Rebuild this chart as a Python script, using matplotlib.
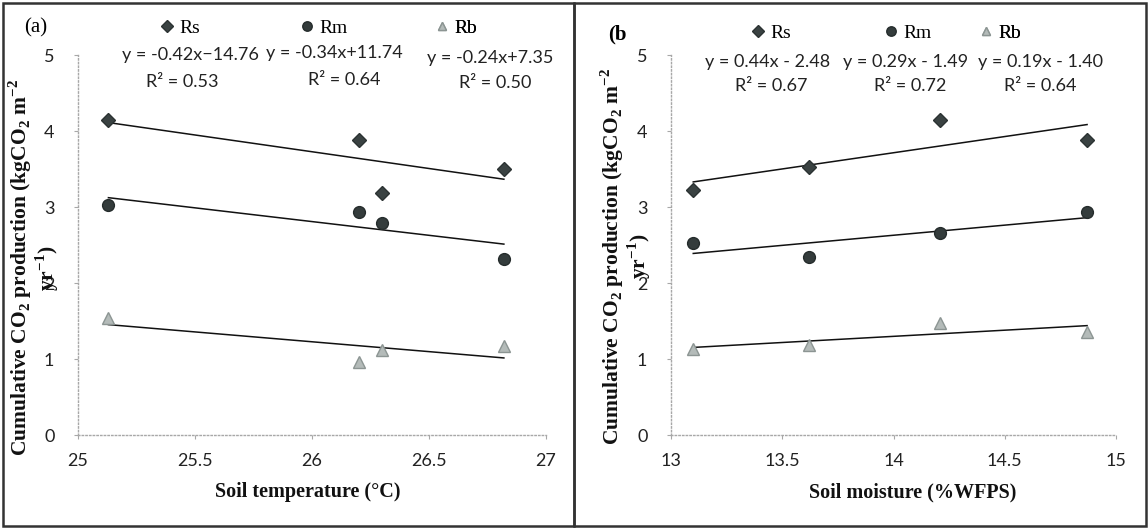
import numpy as np
import matplotlib
matplotlib.use("Agg")
import matplotlib.pyplot as plt
from matplotlib.patches import Rectangle

# data
temp = [25.13, 26.20, 26.30, 26.82]
rs_temp = [4.15, 3.88, 3.18, 3.50]
rm_temp = [3.02, 2.94, 2.79, 2.32]
rb_temp = [1.54, 0.96, 1.12, 1.17]

moist = [13.10, 13.62, 14.21, 14.87]
rs_moist = [3.22, 3.53, 4.14, 3.88]
rm_moist = [2.53, 2.34, 2.66, 2.93]
rb_moist = [1.13, 1.19, 1.48, 1.36]

series = ["Rs", "Rm", "Rb"]
eqs_temp = ["y = -0.42x\u221214.76", "y = -0.34x+11.74", "y = -0.24x+7.35"]
r2_temp = ["R\u00b2 = 0.53", "R\u00b2 = 0.64", "R\u00b2 = 0.50"]
eqs_moist = ["y = 0.44x - 2.48", "y = 0.29x - 1.49", "y = 0.19x - 1.40"]
r2_moist = ["R\u00b2 = 0.67", "R\u00b2 = 0.72", "R\u00b2 = 0.64"]

W, H = 1148, 529
SANS = ["Lato", "DejaVu Sans"]
SERIF = "Liberation Serif"

plt.rcParams["mathtext.fontset"] = "custom"
plt.rcParams["mathtext.rm"] = "Liberation Serif:bold"
plt.rcParams["mathtext.bf"] = "Liberation Serif:bold"

styles = {
    "Rs": dict(marker="D", ms=7.5, color="#3a4242", mec="#2b3232"),
    "Rm": dict(marker="o", ms=8.5, color="#343c3c", mec="#252c2c"),
    "Rb": dict(marker="^", ms=8, color="#b4bbb9", mec="#8c9593"),
}

# y label is wrapped over two lines in the original
YLABEL_1 = "Cumulative CO$_{2}$ production (kgCO$_{2}$ m$^{-2}$"
YLABEL_2 = "yr$^{-1}$)"


def fig_pos(px, py):
    return px / W, 1 - py / H


def draw_panel(fig, rect, x, ys, xlim, xticks, xlabel, xlab_x, ylab_x, ylab2_x, ylab_y):
    ax = fig.add_axes(rect)
    handles = []
    for name, y in zip(series, ys):
        (h,) = ax.plot(x, y, ls="none", zorder=3, **styles[name])
        handles.append(h)
        k, b = np.polyfit(x, y, 1)
        xx = np.array([min(x), max(x)])
        ax.plot(xx, k * xx + b, color="#111111", lw=1.1, zorder=2)

    ax.set_xlim(*xlim)
    ax.set_ylim(0, 5)
    ax.set_xticks(xticks)
    ax.set_xticklabels([f"{t:g}" for t in xticks])
    ax.set_yticks(range(6))
    for s in ["top", "right"]:
        ax.spines[s].set_visible(False)
    for s in ["left", "bottom"]:
        ax.spines[s].set_color("#a8a8a8")
        ax.spines[s].set_linestyle(":")
        ax.spines[s].set_linewidth(1.0)
    ax.tick_params(axis="both", direction="out", length=3, color="#a8a8a8",
                   labelsize=13, labelcolor="#222222")
    ax.tick_params(axis="x", pad=10)
    ax.tick_params(axis="y", pad=14)
    for lab in ax.get_xticklabels() + ax.get_yticklabels():
        lab.set_family(SANS)

    ax.set_xlabel(xlabel, family=SERIF, fontweight="bold", fontsize=14.5, color="#111111")
    ax.xaxis.set_label_coords(xlab_x, -0.125)
    ax.set_ylabel(YLABEL_1, family=SERIF, fontweight="bold", fontsize=15.5, color="#111111")
    ax.yaxis.set_label_coords(ylab_x, ylab_y)
    ax.text(ylab2_x, ylab_y, YLABEL_2, transform=ax.transAxes, rotation=90,
            ha="center", va="center", family=SERIF, fontweight="bold",
            fontsize=15.5, color="#111111")
    return ax, handles


def add_key(fig, ax, handle, label, px, py):
    leg = ax.legend([handle], [label], loc="center left",
                    bbox_to_anchor=fig_pos(px - 6, py), bbox_transform=fig.transFigure,
                    frameon=False, borderpad=0, handlelength=0.6, handletextpad=0.35,
                    markerscale=0.8, numpoints=1,
                    prop={"family": SERIF, "size": 14})
    ax.add_artist(leg)


def main():
    fig = plt.figure(figsize=(W / 100, H / 100), dpi=100)

    # panel frames
    fig.add_artist(Rectangle(fig_pos(3, 526), 571 / W, 523 / H, fill=False,
                             transform=fig.transFigure, lw=1.8, ec="#333333"))
    fig.add_artist(Rectangle(fig_pos(574, 526), 572 / W, 523 / H, fill=False,
                             transform=fig.transFigure, lw=1.8, ec="#333333"))

    ax_a, h_a = draw_panel(fig, [78 / W, 1 - 435 / H, 468 / W, 380 / H],
                           temp, [rs_temp, rm_temp, rb_temp], (25, 27),
                           [25, 25.5, 26, 26.5, 27], "Soil temperature (\u00b0C)",
                           0.491, -0.093, -0.066, 0.44)
    ax_b, h_b = draw_panel(fig, [671 / W, 1 - 435 / H, 445 / W, 380 / H],
                           moist, [rs_moist, rm_moist, rb_moist], (13, 15),
                           [13, 13.5, 14, 14.5, 15], "Soil moisture (%WFPS)",
                           0.544, -0.102, -0.071, 0.47)

    fig.text(*fig_pos(24, 28), "(a)", family=SERIF, fontsize=15, va="center", ha="left")
    fig.text(*fig_pos(608, 34), "(b", family=SERIF, fontsize=15, fontweight="bold",
             va="center", ha="left")

    for h, name, px in zip(h_a, series, [157, 297, 432]):
        add_key(fig, ax_a, h, name, px, 28)
    for h, name, px in zip(h_b, series, [748, 881, 976]):
        add_key(fig, ax_b, h, name, px, 33)

    for eq, r2, ex, ey, rx, ry in zip(eqs_temp, r2_temp,
                                      [190, 334, 490], [55, 53, 58],
                                      [182, 344, 495], [82, 80, 83]):
        fig.text(*fig_pos(ex, ey), eq, family=SANS, fontsize=13, ha="center", va="center", color="#222222")
        fig.text(*fig_pos(rx, ry), r2, family=SANS, fontsize=13, ha="center", va="center", color="#222222")
    for eq, r2, ex, rx in zip(eqs_moist, r2_moist, [768, 906, 1040], [771, 910, 1040]):
        fig.text(*fig_pos(ex, 62), eq, family=SANS, fontsize=13, ha="center", va="center", color="#222222")
        fig.text(*fig_pos(rx, 86), r2, family=SANS, fontsize=13, ha="center", va="center", color="#222222")

    fig.savefig("out.png", dpi=100)


if __name__ == "__main__":
    main()
